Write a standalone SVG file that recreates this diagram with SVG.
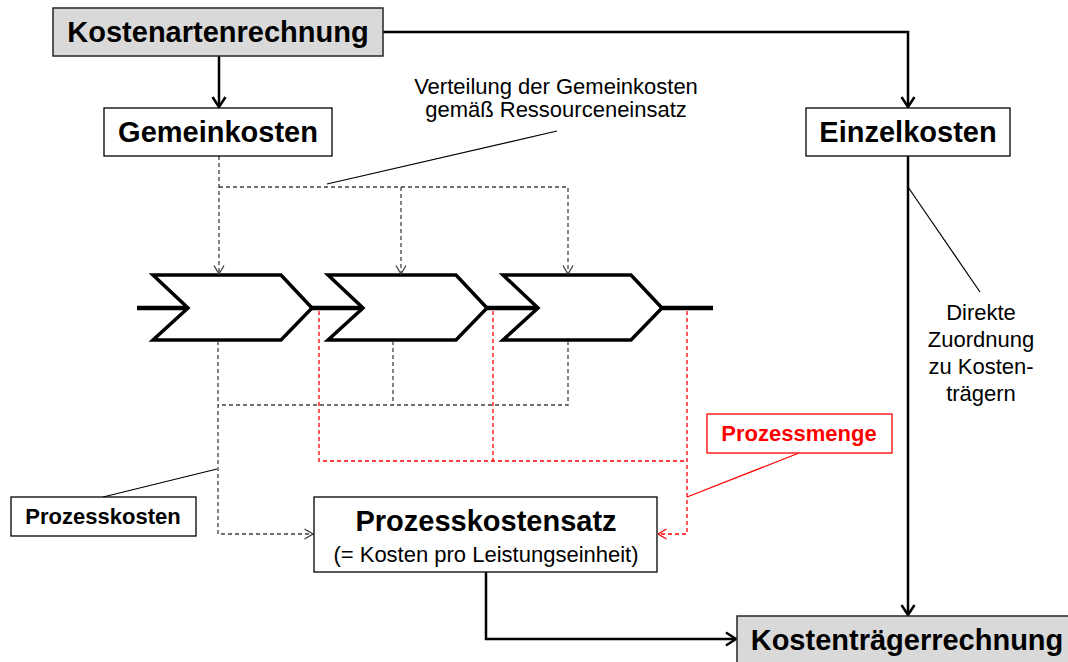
<svg xmlns="http://www.w3.org/2000/svg" width="1068" height="662" viewBox="0 0 1068 662">
  <style>
    .box { fill: #ffffff; stroke: #000000; stroke-width: 1.3; }
    .boxgray { fill: #d9d9d9; stroke: #262626; stroke-width: 1.5; }
    .boxred { fill: #ffffff; stroke: #ff0000; stroke-width: 1.3; }
    .big { font-family: "Liberation Sans", Arial, sans-serif; font-weight: bold; font-size: 29px; fill: #000; text-anchor: middle; }
    .mid { font-family: "Liberation Sans", Arial, sans-serif; font-weight: bold; font-size: 22px; fill: #000; text-anchor: middle; }
    .reg { font-family: "Liberation Sans", Arial, sans-serif; font-size: 22px; fill: #000; text-anchor: middle; }
    .red { fill: #ff0000; }
    .flow { fill: none; stroke: #000; stroke-width: 2.5; }
    .dash { fill: none; stroke: #404040; stroke-width: 1.3; stroke-dasharray: 4 3; }
    .dashred { fill: none; stroke: #ff0000; stroke-width: 1.3; stroke-dasharray: 4 3; }
    .note { fill: none; stroke: #000; stroke-width: 1.2; }
    .notered { fill: none; stroke: #ff0000; stroke-width: 1.2; }
    .chev { fill: #ffffff; stroke: #000; stroke-width: 3.5; stroke-linejoin: miter; }
    .proc { fill: none; stroke: #000; stroke-width: 4.5; }
  </style>
  <defs>
    <marker id="arr" viewBox="0 0 12 16" refX="11" refY="8" markerWidth="12" markerHeight="16" markerUnits="userSpaceOnUse" orient="auto">
      <path d="M1,1.5 L11,8 L1,14.5" fill="none" stroke="#000" stroke-width="2.5"/>
    </marker>
    <marker id="arrd" viewBox="0 0 10 12" refX="9.5" refY="6" markerWidth="10" markerHeight="12" markerUnits="userSpaceOnUse" orient="auto">
      <path d="M1,1 L9.5,6 L1,11" fill="none" stroke="#404040" stroke-width="1.3"/>
    </marker>
    <marker id="arrr" viewBox="0 0 10 12" refX="9.5" refY="6" markerWidth="10" markerHeight="12" markerUnits="userSpaceOnUse" orient="auto">
      <path d="M1,1 L9.5,6 L1,11" fill="none" stroke="#ff0000" stroke-width="1.3"/>
    </marker>
  </defs>

  <rect width="1068" height="662" fill="#ffffff"/>

  <!-- process chain -->
  <g id="process-chain">
    <path class="proc" d="M137,308 H190 M312,308 H365 M487,308 H540 M662,308 H713"/>
    <polygon class="chev" points="153,275 281,275 312,308 281,340 153,340 188,308"/>
    <polygon class="chev" points="328,275 456,275 487,308 456,340 328,340 363,308"/>
    <polygon class="chev" points="503,275 631,275 662,308 631,340 503,340 538,308"/>
  </g>

  <g id="connectors">
    <!-- main flows -->
    <path class="flow" d="M219,56 V107" marker-end="url(#arr)"/>
    <path class="flow" d="M383,32 H908 V107" marker-end="url(#arr)"/>
    <path class="flow" d="M908,156 V615" marker-end="url(#arr)"/>
    <path class="flow" d="M486,572 V639 H736" marker-end="url(#arr)"/>

    <!-- distribution of overhead costs to activities -->
    <path class="dash" d="M219,156 V274" marker-end="url(#arrd)"/>
    <path class="dash" d="M219,187 H568 V274" marker-end="url(#arrd)"/>
    <path class="dash" d="M401,187 V274" marker-end="url(#arrd)"/>

    <!-- activity costs collected -->
    <path class="dash" d="M393,341 V405"/>
    <path class="dash" d="M568,341 V405 H218"/>
    <path class="dash" d="M218,341 V534 H313" marker-end="url(#arrd)"/>

    <!-- activity quantity collected -->
    <path class="dashred" d="M319,311 V461 H687"/>
    <path class="dashred" d="M493,311 V461"/>
    <path class="dashred" d="M687,311 V534 H658" marker-end="url(#arrr)"/>

    <!-- annotation leaders -->
    <path class="note" d="M557,131 L327,184"/>
    <path class="note" d="M908,187 L980,292"/>
    <path class="note" d="M103,497 L217,469"/>
    <path class="notered" d="M799,453 L687,497"/>
  </g>

  <g id="kostenartenrechnung">
    <rect class="boxgray" x="53" y="8" width="330" height="48"/>
    <text class="big" x="218" y="42">Kostenartenrechnung</text>
  </g>

  <g id="gemeinkosten">
    <rect class="box" x="104" y="108" width="228" height="48"/>
    <text class="big" x="218" y="142">Gemeinkosten</text>
  </g>

  <g id="einzelkosten">
    <rect class="box" x="806" y="108" width="204" height="48"/>
    <text class="big" x="908" y="142">Einzelkosten</text>
  </g>

  <g id="verteilung-label">
    <text class="reg" x="556" y="94">Verteilung der Gemeinkosten</text>
    <text class="reg" x="556" y="117">gemäß Ressourceneinsatz</text>
  </g>

  <g id="zuordnung-label">
    <text class="reg" x="981" y="320">Direkte</text>
    <text class="reg" x="981" y="347">Zuordnung</text>
    <text class="reg" x="981" y="374">zu Kosten-</text>
    <text class="reg" x="981" y="401">trägern</text>
  </g>

  <g id="prozessmenge">
    <rect class="boxred" x="707" y="414" width="185" height="39"/>
    <text class="mid red" x="799" y="441">Prozessmenge</text>
  </g>

  <g id="prozesskosten">
    <rect class="box" x="11" y="497" width="185" height="39"/>
    <text class="mid" x="103" y="524">Prozesskosten</text>
  </g>

  <g id="prozesskostensatz">
    <rect class="box" x="314" y="497" width="343" height="75"/>
    <text class="big" x="486" y="531">Prozesskostensatz</text>
    <text class="reg" x="486" y="562">(= Kosten pro Leistungseinheit)</text>
  </g>

  <g id="kostentraegerrechnung">
    <rect class="boxgray" x="737" y="616" width="340" height="52"/>
    <text class="big" x="907" y="650">Kostenträgerrechnung</text>
  </g>
</svg>
